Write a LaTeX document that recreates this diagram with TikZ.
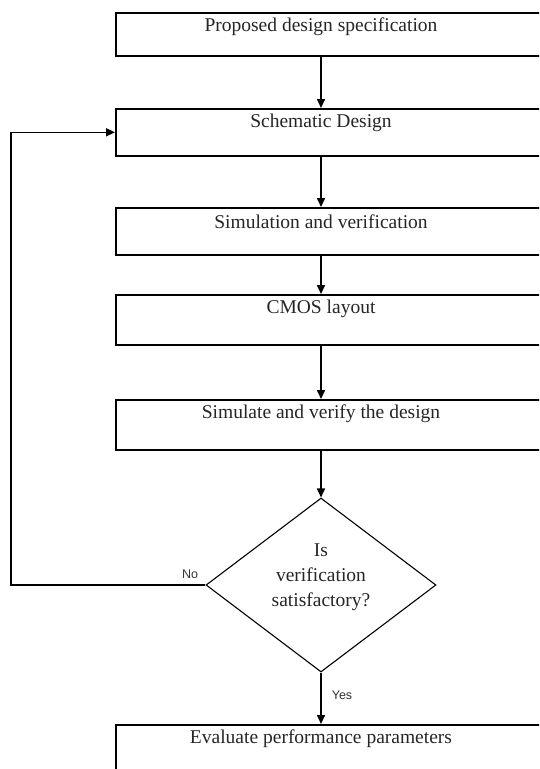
\documentclass[tikz,border=0pt]{standalone}
\usepackage{fontspec}
\setmainfont{Liberation Serif}
\newfontfamily\lblfont{Liberation Sans}
\usetikzlibrary{arrows.meta,shapes.geometric}
\begin{document}
\begin{tikzpicture}[x=1pt,y=-1pt,
  box/.style={draw=black,line width=1.6pt,rectangle,minimum width=440pt,anchor=north west,inner sep=0pt},
  txt/.style={font=\fontsize{19.5}{25}\selectfont,inner sep=0pt,anchor=center,text=black!85},
  dec/.style={draw=black,line width=1.1pt,diamond,minimum width=230pt,minimum height=174pt,inner sep=0pt},
  lbl/.style={font=\lblfont\fontsize{12.5}{14}\selectfont,inner sep=0pt,text=black!80},
  arr/.style={draw=black,line width=1.6pt,-{Triangle[length=9pt,width=8pt]}}]
\useasboundingbox (0,0) rectangle (539,769);
\clip (0,0) rectangle (539,769);
\fill[white] (0,0) rectangle (539,769);
% boxes
\node[box,minimum height=43pt] (b1) at (115,12) {};
\node[box,minimum height=47pt] (b2) at (115,108) {};
\node[box,minimum height=47pt] (b3) at (115,207) {};
\node[box,minimum height=50pt] (b4) at (115,294) {};
\node[box,minimum height=50pt] (b5) at (115,399) {};
\node[box,minimum height=80pt] (b6) at (115,724) {};
% texts
\node[txt] (t1) at (321,27) {Proposed design specification};
\node[txt] (t2) at (321,123) {Schematic Design};
\node[txt] (t3) at (321,222) {Simulation and verification};
\node[txt] (t4) at (321,309) {CMOS layout};
\node[txt] (t5) at (321,414) {Simulate and verify the design};
\node[txt] (t6) at (321,739) {Evaluate performance parameters};
% decision
\node[dec] (d) at (321,585) {};
\node[txt,align=center] (dt) at (321,577) {Is\\verification\\satisfactory?};
% feedback corner
\coordinate (fb) at (11,0);
% connectors
\draw[arr] (b1.south -| t1) -- (b2.north -| t1);
\draw[arr] (b2.south -| t2) -- (b3.north -| t2);
\draw[arr] (b3.south -| t3) -- (b4.north -| t3);
\draw[arr] (b4.south -| t4) -- (b5.north -| t4);
\draw[arr] (b5.south -| t5) -- (d.north);
\draw[arr] (d.south) -- (b6.north -| t6);
\draw[arr] (d.west) -- (d.west -| fb) |- (b2.west);
% labels
\node[lbl] (no) at (190,574) {No};
\node[lbl] (yes) at (342,695) {Yes};
\end{tikzpicture}
\end{document}
